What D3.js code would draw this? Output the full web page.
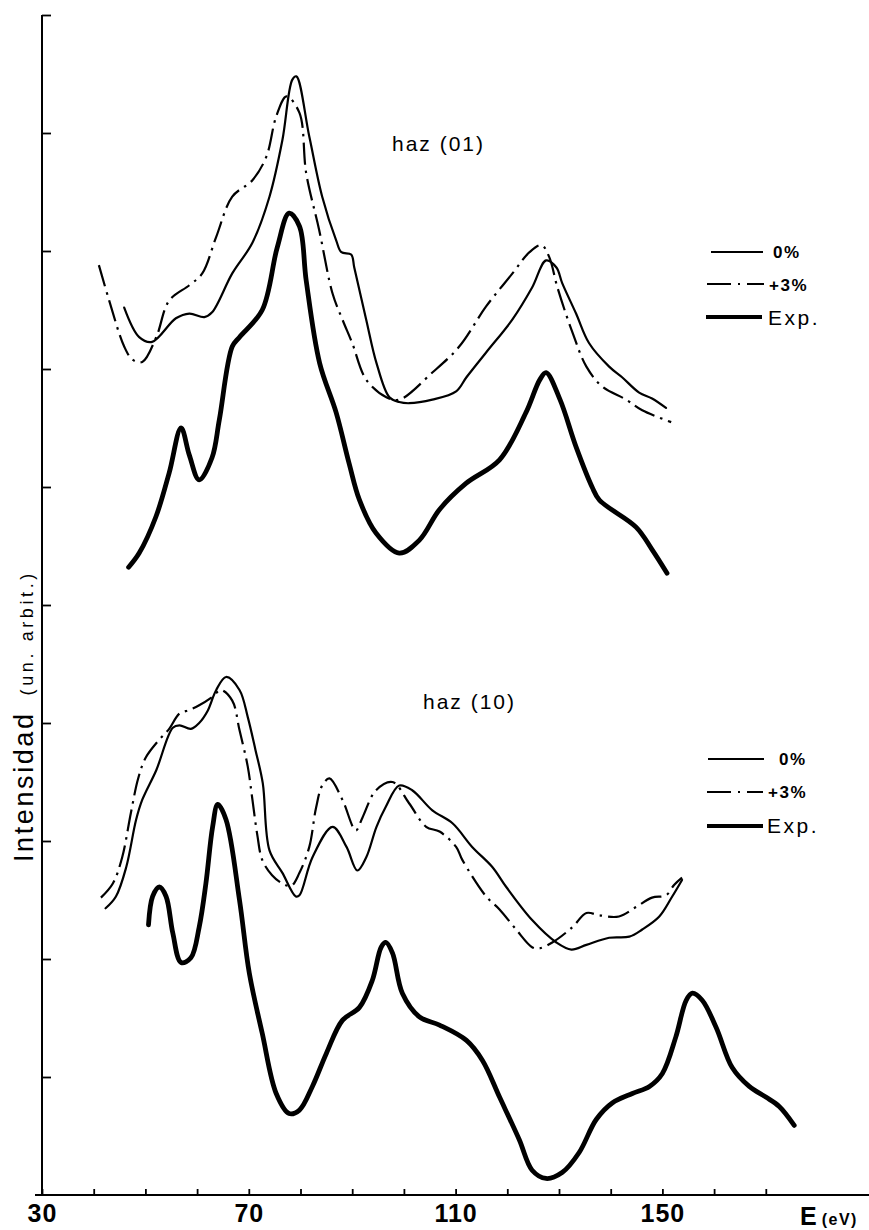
<!DOCTYPE html>
<html>
<head>
<meta charset="utf-8">
<script src="https://cdn.jsdelivr.net/npm/d3@7"></script>
<style>
  html, body { margin: 0; padding: 0; background: #fff; }
  svg { display: block; }
</style>
</head>
<body>
<svg id="chart" width="869" height="1230"></svg>
<script>
// Energy axis (eV) and intensity axis (arbitrary units)
const energyTicks = [30, 40, 50, 60, 70, 80, 90, 100, 110, 120, 130, 140, 150, 160, 170];
const energyLabels = [30, 70, 110, 150];
const intensityTicks = [1, 2, 3, 4, 5, 6, 7, 8, 9, 10];
const legendLabels = ["0%", "+3%", "Exp."];
const panelTitles = ["haz (01)", "haz (10)"];

// Beam (01): calculated 0%, calculated +3%, experimental  — [E (eV), intensity]
const haz01Calc0 = [
  [45.9, 7.52], [48.8, 7.27], [51.3, 7.23], [55.9, 7.43], [58.5, 7.47], [61.4, 7.44],
  [62.9, 7.48], [66.8, 7.81], [70.7, 8.07], [74.0, 8.46], [76.5, 8.94], [78.4, 9.45],
  [79.2, 9.48], [81.7, 8.97], [84.2, 8.46], [86.9, 8.09], [87.9, 7.99], [89.8, 7.97],
  [90.4, 7.86], [92.7, 7.42], [94.7, 7.05], [97.2, 6.76], [99.1, 6.72], [101.0, 6.71],
  [105.5, 6.74], [110.1, 6.81], [112.1, 6.93], [115.9, 7.14], [121.0, 7.42], [124.8, 7.69],
  [127.5, 7.92], [129.5, 7.86], [130.6, 7.73], [133.3, 7.47], [135.8, 7.22], [139.7, 7.02],
  [142.2, 6.93], [145.5, 6.80], [148.0, 6.75], [150.7, 6.67]
];
const haz01Calc3 = [
  [41.0, 7.88], [43.0, 7.58], [45.9, 7.19], [47.5, 7.08], [49.4, 7.06], [52.1, 7.27],
  [54.6, 7.58], [58.5, 7.71], [61.0, 7.81], [63.7, 8.12], [66.8, 8.46], [70.7, 8.60],
  [73.4, 8.80], [75.3, 9.14], [77.3, 9.31], [79.8, 9.17], [81.1, 8.66], [83.6, 8.18],
  [86.2, 7.64], [88.1, 7.42], [90.0, 7.22], [92.7, 6.91], [96.6, 6.76], [99.1, 6.74],
  [105.5, 6.97], [110.7, 7.19], [115.9, 7.53], [121.0, 7.81], [124.3, 7.99], [126.6, 8.05],
  [128.1, 7.95], [129.7, 7.69], [132.6, 7.31], [135.3, 7.02], [138.4, 6.85], [143.0, 6.74],
  [146.1, 6.65], [151.7, 6.55]
];
const haz01Exp = [
  [46.75, 5.32], [48.8, 5.44], [52.05, 5.75], [54.6, 6.12], [56.9, 6.50], [58.5, 6.27],
  [60.4, 6.06], [62.9, 6.25], [64.3, 6.57], [66.8, 7.19], [68.2, 7.27], [72.6, 7.50],
  [75.5, 8.03], [77.8, 8.32], [79.8, 8.21], [81.1, 7.75], [83.7, 7.05], [86.9, 6.63],
  [89.4, 6.20], [91.4, 5.89], [94.6, 5.61], [99.1, 5.44], [103.0, 5.55], [106.9, 5.81],
  [112.0, 6.03], [118.5, 6.23], [123.6, 6.63], [126.3, 6.91], [127.5, 6.97], [130.2, 6.74],
  [133.3, 6.34], [136.4, 6.00], [137.8, 5.89], [144.9, 5.66], [148.0, 5.47], [150.9, 5.27]
];

// Beam (10)
const haz10Calc0 = [
  [42.3, 2.43], [44.3, 2.53], [46.3, 2.78], [48.2, 3.18], [49.4, 3.35], [52.1, 3.60],
  [55.3, 3.96], [56.6, 3.98], [58.8, 3.95], [60.4, 4.00], [62.0, 4.10], [63.7, 4.28],
  [65.6, 4.39], [68.2, 4.28], [69.8, 4.05], [71.3, 3.77], [72.7, 3.49], [74.0, 2.92],
  [76.5, 2.73], [79.1, 2.53], [79.8, 2.54], [82.3, 2.86], [86.2, 3.12], [88.9, 2.95],
  [91.0, 2.75], [92.7, 2.86], [94.7, 3.12], [96.5, 3.29], [99.1, 3.47], [101.6, 3.43],
  [105.5, 3.26], [109.4, 3.15], [113.2, 2.95], [117.1, 2.78], [119.8, 2.61], [124.8, 2.33],
  [129.5, 2.14], [132.4, 2.08], [135.3, 2.12], [139.7, 2.18], [143.6, 2.19], [146.1, 2.25],
  [149.4, 2.36], [151.9, 2.53], [153.8, 2.67]
];
const haz10Calc3 = [
  [41.4, 2.52], [43.7, 2.64], [45.5, 2.86], [47.2, 3.24], [48.6, 3.53], [50.1, 3.71],
  [52.7, 3.86], [54.6, 3.95], [56.6, 4.08], [58.5, 4.11], [60.4, 4.15], [62.9, 4.22],
  [64.6, 4.28], [66.8, 4.19], [68.2, 3.94], [69.8, 3.63], [70.7, 3.35], [71.65, 3.05],
  [72.6, 2.84], [74.5, 2.71], [76.5, 2.64], [78.2, 2.62], [79.8, 2.73], [81.7, 2.95],
  [83.0, 3.28], [84.2, 3.47], [85.6, 3.53], [88.1, 3.35], [90.7, 3.09], [92.0, 3.20],
  [94.6, 3.43], [97.8, 3.50], [101.0, 3.32], [104.3, 3.12], [106.9, 3.08], [110.1, 2.95],
  [111.3, 2.84], [115.9, 2.53], [118.5, 2.42], [121.7, 2.25], [124.8, 2.10], [126.2, 2.09],
  [128.7, 2.14], [132.6, 2.27], [135.3, 2.39], [137.8, 2.37], [141.6, 2.36], [144.9, 2.44],
  [148.0, 2.52], [150.7, 2.54], [152.3, 2.63], [153.8, 2.69]
];
const haz10Exp = [
  [50.6, 2.29], [51.4, 2.53], [52.7, 2.61], [54.0, 2.53], [55.3, 2.22], [56.9, 1.97],
  [58.8, 2.01], [60.4, 2.27], [61.7, 2.64], [63.0, 3.12], [64.0, 3.31], [65.6, 3.18],
  [68.2, 2.50], [70.1, 1.88], [72.6, 1.37], [75.3, 0.86], [77.8, 0.69], [79.8, 0.72],
  [82.3, 0.92], [85.0, 1.20], [88.1, 1.48], [91.4, 1.59], [93.9, 1.82], [95.6, 2.10],
  [96.5, 2.14], [97.8, 2.05], [99.7, 1.71], [103.0, 1.51], [106.9, 1.44], [112.1, 1.31],
  [115.2, 1.14], [118.5, 0.83], [122.3, 0.47], [124.8, 0.21], [127.5, 0.14], [130.6, 0.19],
  [133.9, 0.36], [137.2, 0.64], [140.3, 0.78], [144.2, 0.86], [147.5, 0.92], [150.0, 1.03],
  [152.6, 1.34], [154.6, 1.65], [155.8, 1.71], [157.7, 1.65], [160.4, 1.42], [163.5, 1.08],
  [166.8, 0.92], [170.0, 0.83], [172.6, 0.75], [175.5, 0.59]
];

// ---- drawing ----
const svg = d3.select("#chart");
const W = 869, H = 1230;
const AXIS_X = 42, AXIS_Y = 1195;

const x = d3.scaleLinear().domain([30, 170]).range([AXIS_X, AXIS_X + 140 * 5.17]);
const y = d3.scaleLinear().domain([0, 10]).range([AXIS_Y, 15]);

const styles = {
  "0%":   { width: 2.2, dash: null },
  "+3%":  { width: 2.2, dash: "22,6,2.5,6" },
  "Exp.": { width: 4.8, dash: null }
};

const line = d3.line()
  .x(d => x(d[0]))
  .y(d => y(d[1]))
  .curve(d3.curveCatmullRom.alpha(0.5));

const series = [
  { key: "0%", data: haz01Calc0 }, { key: "+3%", data: haz01Calc3 }, { key: "Exp.", data: haz01Exp },
  { key: "0%", data: haz10Calc0 }, { key: "+3%", data: haz10Calc3 }, { key: "Exp.", data: haz10Exp }
];

svg.append("rect").attr("width", W).attr("height", H).attr("fill", "#fff");

// axis lines
svg.append("line")
  .attr("x1", AXIS_X).attr("x2", AXIS_X).attr("y1", y(10)).attr("y2", AXIS_Y + 1)
  .attr("stroke", "#000").attr("stroke-width", 2);
svg.append("line")
  .attr("x1", 35).attr("x2", W).attr("y1", AXIS_Y).attr("y2", AXIS_Y)
  .attr("stroke", "#000").attr("stroke-width", 2);

// x axis ticks + labels
const xAxis = d3.axisBottom(x)
  .tickValues(energyTicks)
  .tickSizeInner(-6)
  .tickSizeOuter(0)
  .tickPadding(9)
  .tickFormat(d => energyLabels.includes(d) ? String(d) : "");
const gx = svg.append("g").attr("transform", `translate(0,${AXIS_Y})`).call(xAxis);
gx.select(".domain").remove();
gx.selectAll(".tick line").attr("stroke", "#000").attr("stroke-width", 1.8);
gx.selectAll(".tick text")
  .attr("fill", "#000")
  .style("font-family", "'Liberation Sans Narrow', 'Liberation Sans', Arial, sans-serif")
  .style("font-weight", "bold")
  .style("font-size", "25px")
  .style("letter-spacing", "1px");

// y axis ticks (unlabelled)
const yAxis = d3.axisLeft(y)
  .tickValues(intensityTicks)
  .tickSizeInner(-9)
  .tickSizeOuter(0)
  .tickFormat("");
const gy = svg.append("g").attr("transform", `translate(${AXIS_X},0)`).call(yAxis);
gy.select(".domain").remove();
gy.selectAll(".tick line").attr("stroke", "#000").attr("stroke-width", 1.8);

// axis titles
const eLabel = svg.append("text")
  .attr("x", 800).attr("y", 1225)
  .attr("fill", "#000")
  .style("font-family", "'Liberation Sans Narrow', 'Liberation Sans', Arial, sans-serif")
  .style("font-weight", "bold");
eLabel.append("tspan").style("font-size", "25px").text("E");
eLabel.append("tspan").attr("dx", 5).style("font-size", "16px").style("letter-spacing", "1.5px").text("(eV)");

const yLabel = svg.append("text")
  .attr("transform", "translate(33,862) rotate(-90)")
  .attr("fill", "#000")
  .style("font-family", "'Liberation Sans', Arial, sans-serif");
yLabel.append("tspan").style("font-size", "27px").style("letter-spacing", "2.6px").text("Intensidad");
yLabel.append("tspan").attr("dx", 16).style("font-size", "18px").style("letter-spacing", "3.6px").text("(un. arbit.)");

// curves
svg.append("g").selectAll("path")
  .data(series)
  .join("path")
  .attr("d", d => line(d.data))
  .attr("fill", "none")
  .attr("stroke", "#000")
  .attr("stroke-width", d => styles[d.key].width)
  .attr("stroke-dasharray", d => styles[d.key].dash)
  .attr("stroke-linejoin", "round")
  .attr("stroke-linecap", d => styles[d.key].dash ? "butt" : "round");

// panel titles
const titleFont = "'Liberation Sans', Arial, sans-serif";
[[392, 151], [423, 709]].forEach((p, i) => {
  svg.append("text")
    .attr("x", p[0]).attr("y", p[1])
    .attr("fill", "#000")
    .style("font-family", titleFont)
    .style("font-size", "21px")
    .style("letter-spacing", "2px")
    .text(panelTitles[i]);
});

// legends
function drawLegend(rows) {
  rows.forEach((r, i) => {
    const key = legendLabels[i];
    svg.append("line")
      .attr("x1", r.x1).attr("x2", r.x2).attr("y1", r.y).attr("y2", r.y)
      .attr("stroke", "#000")
      .attr("stroke-width", key === "Exp." ? 4.2 : 1.8)
      .attr("stroke-dasharray", key === "+3%" ? "24,7,2,7" : null);
    const t = svg.append("text")
      .attr("x", r.tx).attr("y", r.ty)
      .attr("fill", "#000")
      .text(key);
    if (key === "Exp.") {
      t.style("font-family", titleFont).style("font-size", "21px").style("letter-spacing", "2.5px");
    } else {
      t.style("font-family", "'Liberation Sans Narrow', 'Liberation Sans', Arial, sans-serif")
       .style("font-weight", "bold").style("font-size", "17px").style("letter-spacing", "1.5px");
    }
  });
}
drawLegend([
  { x1: 711, x2: 763, y: 252, tx: 773, ty: 258 },
  { x1: 707, x2: 764, y: 284, tx: 769, ty: 291 },
  { x1: 706, x2: 762, y: 317, tx: 768, ty: 325 }
]);
drawLegend([
  { x1: 708, x2: 764, y: 759, tx: 779, ty: 765 },
  { x1: 707, x2: 763, y: 792, tx: 768, ty: 798 },
  { x1: 707, x2: 763, y: 826, tx: 767, ty: 833 }
]);
</script>
</body>
</html>
